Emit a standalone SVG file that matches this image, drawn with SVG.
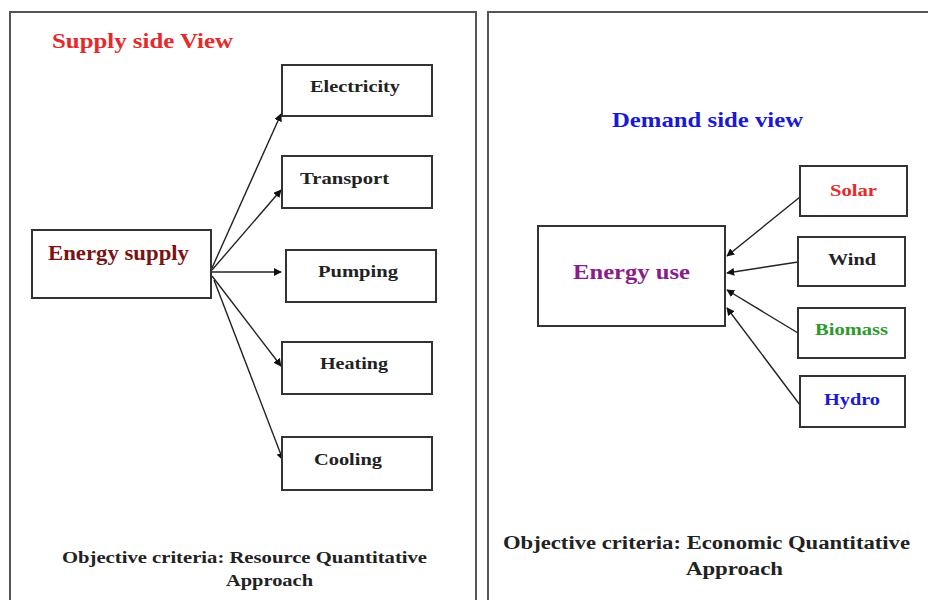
<svg xmlns="http://www.w3.org/2000/svg" width="928" height="600" viewBox="0 0 928 600">
<style>
  .panel{fill:#fff;stroke:#555;stroke-width:2}
  .box{fill:#fff;stroke:#333;stroke-width:2}
  .t{font-family:"Liberation Serif","Times New Roman",serif;font-weight:bold}
  .lbl{font-size:17px;fill:#222}
  .conn{stroke:#222;stroke-width:1.4;fill:none;marker-end:url(#ah)}
  .crit{fill:#222}
</style>
<defs>
  <marker id="ah" viewBox="0 0 10 10" refX="9" refY="5" markerWidth="8" markerHeight="8" markerUnits="userSpaceOnUse" orient="auto">
    <path d="M0,0 L10,5 L0,10 z" fill="#111"/>
  </marker>
</defs>
<rect x="0" y="0" width="928" height="600" fill="#fff"/>
<g id="panel-supply">
  <rect class="panel" x="10" y="12" width="466" height="600"/>
  <text class="t" x="52" y="48" font-size="22" fill="#e52a2a" textLength="181" lengthAdjust="spacingAndGlyphs">Supply side View</text>
  <text class="t crit" x="62" y="563" font-size="17" textLength="365" lengthAdjust="spacingAndGlyphs">Objective criteria: Resource Quantitative</text>
  <text class="t crit" x="226" y="586" font-size="17" textLength="87" lengthAdjust="spacingAndGlyphs">Approach</text>
</g>
<g id="panel-demand">
  <rect class="panel" x="488" y="12" width="450" height="600"/>
  <text class="t" x="612" y="127" font-size="22" fill="#1a1ad6" textLength="191" lengthAdjust="spacingAndGlyphs">Demand side view</text>
  <text class="t crit" x="503" y="549" font-size="18.5" textLength="407" lengthAdjust="spacingAndGlyphs">Objective criteria: Economic Quantitative</text>
  <text class="t crit" x="686" y="575" font-size="18.5" textLength="97" lengthAdjust="spacingAndGlyphs">Approach</text>
</g>
<g id="connectors">
  <line class="conn" x1="212" y1="268" x2="281" y2="114"/>
  <line class="conn" x1="212" y1="270" x2="281" y2="190"/>
  <line class="conn" x1="212" y1="272" x2="281" y2="272"/>
  <line class="conn" x1="212" y1="276" x2="281" y2="366"/>
  <line class="conn" x1="214" y1="280" x2="283" y2="460"/>
  <line class="conn" x1="800" y1="197" x2="727" y2="256"/>
  <line class="conn" x1="798" y1="262" x2="727" y2="273"/>
  <line class="conn" x1="798" y1="333" x2="727" y2="290"/>
  <line class="conn" x1="800" y1="405" x2="727" y2="308"/>
</g>
<g id="energy-supply">
  <rect class="box" x="32" y="230" width="179" height="68"/>
  <text class="t" x="48" y="260" font-size="20" fill="#7a1414" textLength="141" lengthAdjust="spacingAndGlyphs">Energy supply</text>
</g>
<g id="electricity">
  <rect class="box" x="282" y="65" width="150" height="51"/>
  <text class="t lbl" x="310" y="92" textLength="90" lengthAdjust="spacingAndGlyphs">Electricity</text>
</g>
<g id="transport">
  <rect class="box" x="282" y="156" width="150" height="52"/>
  <text class="t lbl" x="300" y="184" textLength="89" lengthAdjust="spacingAndGlyphs">Transport</text>
</g>
<g id="pumping">
  <rect class="box" x="286" y="250" width="150" height="52"/>
  <text class="t lbl" x="318" y="277" textLength="80" lengthAdjust="spacingAndGlyphs">Pumping</text>
</g>
<g id="heating">
  <rect class="box" x="282" y="342" width="150" height="52"/>
  <text class="t lbl" x="320" y="369" textLength="68" lengthAdjust="spacingAndGlyphs">Heating</text>
</g>
<g id="cooling">
  <rect class="box" x="282" y="437" width="150" height="53"/>
  <text class="t lbl" x="314" y="465" textLength="68" lengthAdjust="spacingAndGlyphs">Cooling</text>
</g>
<g id="energy-use">
  <rect class="box" x="538" y="226" width="187" height="100"/>
  <text class="t" x="573" y="279" font-size="22" fill="#8b1a8b" textLength="117" lengthAdjust="spacingAndGlyphs">Energy use</text>
</g>
<g id="solar">
  <rect class="box" x="800" y="166" width="107" height="50"/>
  <text class="t" x="830" y="196" font-size="17" fill="#e52a2a" textLength="47" lengthAdjust="spacingAndGlyphs">Solar</text>
</g>
<g id="wind">
  <rect class="box" x="798" y="237" width="107" height="49"/>
  <text class="t" x="828" y="265" font-size="17" fill="#222" textLength="48" lengthAdjust="spacingAndGlyphs">Wind</text>
</g>
<g id="biomass">
  <rect class="box" x="798" y="308" width="107" height="50"/>
  <text class="t" x="815" y="335" font-size="17" fill="#2a9a2a" textLength="73" lengthAdjust="spacingAndGlyphs">Biomass</text>
</g>
<g id="hydro">
  <rect class="box" x="800" y="376" width="105" height="51"/>
  <text class="t" x="824" y="405" font-size="17" fill="#1a1ad6" textLength="56" lengthAdjust="spacingAndGlyphs">Hydro</text>
</g>
</svg>
